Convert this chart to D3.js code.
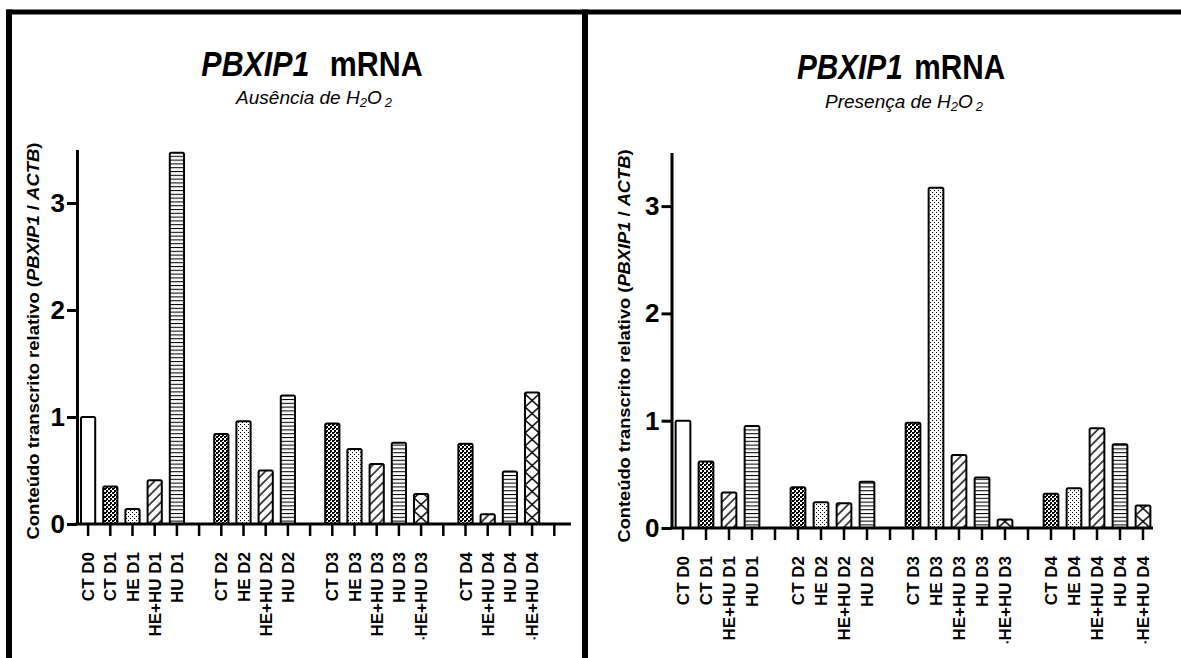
<!DOCTYPE html>
<html>
<head>
<meta charset="utf-8">
<script src="https://cdn.jsdelivr.net/npm/d3@7.9.0/dist/d3.min.js"></script>
<style>
  body { margin: 0; background: #fff; }
  svg { display: block; font-family: Arial, "Liberation Sans", sans-serif; }
  text { white-space: pre; }
</style>
</head>
<body>
<div id="chart"></div>
<script>
// blank labels are the empty slots Prism leaves between the days
const leftLabels = ["CT D0", "CT D1", "HE D1", "HE+HU D1", "HU D1", "",
    "CT D2", "HE D2", "HE+HU D2", "HU D2", "",
    "CT D3", "HE D3", "HE+HU D3", "HU D3", "*HE+HU D3", "",
    "CT D4", "HE+HU D4", "HU D4", "*HE+HU D4", ""];
const leftValues = [1.0, 0.35, 0.14, 0.41, 3.47, null,
    0.84, 0.96, 0.50, 1.20, null,
    0.94, 0.70, 0.56, 0.76, 0.28, null,
    0.75, 0.09, 0.49, 1.23, null];

const rightLabels = ["CT D0", "CT D1", "HE+HU D1", "HU D1", "",
    "CT D2", "HE D2", "HE+HU D2", "HU D2", "",
    "CT D3", "HE D3", "HE+HU D3", "HU D3", "*HE+HU D3", "",
    "CT D4", "HE D4", "HE+HU D4", "HU D4", "*HE+HU D4"];
const rightValues = [1.0, 0.62, 0.33, 0.95, null,
    0.38, 0.24, 0.23, 0.43, null,
    0.98, 3.17, 0.68, 0.47, 0.08, null,
    0.32, 0.37, 0.93, 0.78, 0.21];

const yTicks = [0, 1, 2, 3];
const yMax = 3.5;

let svg = d3.select("#chart")
    .append("svg")
    .attr("width", 1181)
    .attr("height", 658);

let defs = svg.append("defs");

// checker for CT
let checker = defs.append("pattern").attr("id", "checker")
    .attr("patternUnits", "userSpaceOnUse").attr("width", 4).attr("height", 4);
checker.append("rect").attr("width", 4).attr("height", 4).attr("fill", "#fff");
checker.append("rect").attr("width", 2).attr("height", 2).attr("fill", "#000");
checker.append("rect").attr("x", 2).attr("y", 2).attr("width", 2).attr("height", 2).attr("fill", "#000");
checker.append("rect").attr("x", 2).attr("y", 0).attr("width", 1).attr("height", 1).attr("fill", "#000");

// sparse dots for HE
let dots = defs.append("pattern").attr("id", "dots")
    .attr("patternUnits", "userSpaceOnUse").attr("width", 4).attr("height", 4);
dots.append("rect").attr("width", 4).attr("height", 4).attr("fill", "#fff");
dots.append("rect").attr("width", 1).attr("height", 1).attr("fill", "#000");
dots.append("rect").attr("x", 2).attr("y", 2).attr("width", 1).attr("height", 1).attr("fill", "#000");

// diagonal lines for HE+HU
let diag = defs.append("pattern").attr("id", "diag")
    .attr("patternUnits", "userSpaceOnUse").attr("width", 6.5).attr("height", 6.5)
    .attr("patternTransform", "rotate(45)");
diag.append("rect").attr("width", 6.5).attr("height", 6.5).attr("fill", "#fff");
diag.append("line").attr("x1", 1).attr("x2", 1).attr("y1", 0).attr("y2", 6.5)
    .attr("stroke", "#000").attr("stroke-width", 1.4);

// horizontal lines for HU
let hlines = defs.append("pattern").attr("id", "hlines")
    .attr("patternUnits", "userSpaceOnUse").attr("width", 4).attr("height", 3.8);
hlines.append("rect").attr("width", 4).attr("height", 3.8).attr("fill", "#fff");
hlines.append("line").attr("x1", 0).attr("x2", 4).attr("y1", 0.5).attr("y2", 0.5)
    .attr("stroke", "#000").attr("stroke-width", 1.1);

// one crosshatch pattern per bar so the X sits inside the bar
function crossPattern(id, x0, y0, w) {
    let h = 13;
    let p = defs.append("pattern").attr("id", id)
        .attr("patternUnits", "userSpaceOnUse")
        .attr("x", x0).attr("y", y0).attr("width", w).attr("height", h);
    p.append("rect").attr("width", w).attr("height", h).attr("fill", "#fff");
    p.append("path").attr("d", `M0,0L${w},${h}M${w},0L0,${h}`)
        .attr("stroke", "#000").attr("stroke-width", 1.5).attr("fill", "none");
    return `url(#${id})`;
}

function fillFor(label) {
    if (label === "CT D0") return "#fff";
    if (label.startsWith("CT")) return "url(#checker)";
    if (label.startsWith("HE+HU")) return "url(#diag)";
    if (label.startsWith("HE")) return "url(#dots)";
    if (label.startsWith("HU")) return "url(#hlines)";
    return "#fff";
}

// panel frame
svg.append("line").attr("x1", 6).attr("x2", 1181).attr("y1", 12).attr("y2", 12)
    .attr("stroke", "#000").attr("stroke-width", 5);
svg.append("line").attr("x1", 9).attr("x2", 9).attr("y1", 9.5).attr("y2", 658)
    .attr("stroke", "#000").attr("stroke-width", 6);
svg.append("line").attr("x1", 585).attr("x2", 585).attr("y1", 9.5).attr("y2", 658)
    .attr("stroke", "#000").attr("stroke-width", 6);

function drawPanel(o) {
    let n = o.labels.length;
    let x = d3.scaleBand()
        .domain(d3.range(n))
        .range([o.left, o.left + n * o.step])
        .paddingInner(0.36)
        .paddingOuter(0.18);
    let y = d3.scaleLinear().domain([0, yMax]).range([o.base, o.base - yMax * o.unit]);

    let g = svg.append("g");

    let bars = o.values.map((v, i) => ({ v: v, i: i, label: o.labels[i] }))
        .filter(d => d.v != null);

    g.selectAll("rect.bar")
        .data(bars)
        .join("rect")
        .attr("class", "bar")
        .attr("x", d => x(d.i))
        .attr("y", d => y(d.v))
        .attr("width", x.bandwidth())
        .attr("height", d => y(0) - y(d.v))
        .attr("rx", 1.5)
        .attr("fill", d => d.label.startsWith("*")
            ? crossPattern(`cross-${o.id}-${d.i}`, x(d.i), y(0), x.bandwidth())
            : fillFor(d.label))
        .attr("stroke", "#000")
        .attr("stroke-width", 2);

    // y axis
    let yAxis = g.append("g")
        .attr("transform", `translate(${o.left},0)`)
        .call(d3.axisLeft(y).tickValues(yTicks).tickFormat(d3.format("d"))
            .tickSize(10).tickSizeOuter(0).tickPadding(2));
    yAxis.select(".domain").attr("stroke-width", 3);
    yAxis.selectAll(".tick line").attr("stroke-width", 3);
    yAxis.selectAll(".tick text")
        .attr("font-size", 26)
        .attr("font-weight", "bold")
        .attr("font-family", "Arial, 'Liberation Sans', sans-serif")
        .attr("fill", "#000");

    // x axis
    let xAxis = g.append("g")
        .attr("transform", `translate(0,${o.base})`)
        .call(d3.axisBottom(x).tickSize(12).tickSizeOuter(0).tickFormat(i => o.labels[i]));
    xAxis.select(".domain").remove();
    xAxis.append("line")
        .attr("x1", o.left - 1.5).attr("x2", o.axisEnd)
        .attr("stroke", "#000").attr("stroke-width", 3);
    xAxis.selectAll(".tick line").attr("stroke-width", 2.5);
    xAxis.selectAll(".tick text").each(function(i) {
        let s = o.labels[i];
        let t = d3.select(this).text(null)
            .attr("transform", "rotate(-90)")
            .attr("x", -28)
            .attr("y", 0)
            .attr("dy", "0.36em")
            .attr("text-anchor", "end")
            .attr("font-size", 17)
            .attr("font-weight", "bold")
            .attr("font-family", "Arial, 'Liberation Sans', sans-serif")
            .attr("fill", "#000");
        if (s.startsWith("*")) {
            t.append("tspan").attr("font-size", 8).text("*");
            t.append("tspan").text(s.slice(1));
        } else {
            t.append("tspan").text(s);
        }
    });

    // title, squeezed sideways like the Prism export
    let tg = svg.append("g");
    let title = tg.append("text")
        .attr("text-anchor", "middle")
        .attr("font-size", 36)
        .attr("font-weight", "bold");
    title.append("tspan").attr("font-style", "italic").text("PBXIP1");
    title.append("tspan").attr("dx", 4).text(o.titleGap + "mRNA");
    let sx = o.titleLen / title.node().getComputedTextLength();
    tg.attr("transform", `translate(${o.titleX},${o.titleY}) scale(${sx},1)`);

    let sub = svg.append("text")
        .attr("x", o.subX).attr("y", o.subY)
        .attr("text-anchor", "middle")
        .attr("font-size", 19)
        .attr("font-style", "italic");
    sub.append("tspan").text(o.sub + " H");
    sub.append("tspan").attr("font-size", 13).attr("baseline-shift", "-25%").text("2");
    sub.append("tspan").text("O");
    sub.append("tspan").attr("font-size", 13).attr("dx", 3).attr("baseline-shift", "-25%").text("2");

    let yt = svg.append("text")
        .attr("transform", `translate(${o.ytX},${o.ytY}) rotate(-90)`)
        .attr("text-anchor", "middle")
        .attr("dy", "0.35em")
        .attr("font-size", 16)
        .attr("font-weight", "bold")
        .attr("textLength", o.ytLen)
        .attr("lengthAdjust", "spacingAndGlyphs");
    yt.append("tspan").text("Conteúdo transcrito relativo (");
    yt.append("tspan").attr("font-style", "italic").text("PBXIP1");
    yt.append("tspan").text(" / ");
    yt.append("tspan").attr("font-style", "italic").text("ACTB");
    yt.append("tspan").text(")");
}

drawPanel({
    id: "l", labels: leftLabels, values: leftValues,
    left: 77, step: 22.2, base: 524, unit: 107, axisEnd: 571,
    titleX: 312, titleY: 76, titleLen: 218, titleGap: "  ",
    sub: "Ausência de", subX: 314, subY: 104,
    ytX: 33, ytY: 341, ytLen: 397
});

drawPanel({
    id: "r", labels: rightLabels, values: rightValues,
    left: 671.5, step: 23, base: 528, unit: 107.3, axisEnd: 1153,
    titleX: 901, titleY: 79, titleLen: 205, titleGap: " ",
    sub: "Presença de", subX: 904, subY: 108,
    ytX: 624, ytY: 346, ytLen: 393
});
</script>
</body>
</html>
